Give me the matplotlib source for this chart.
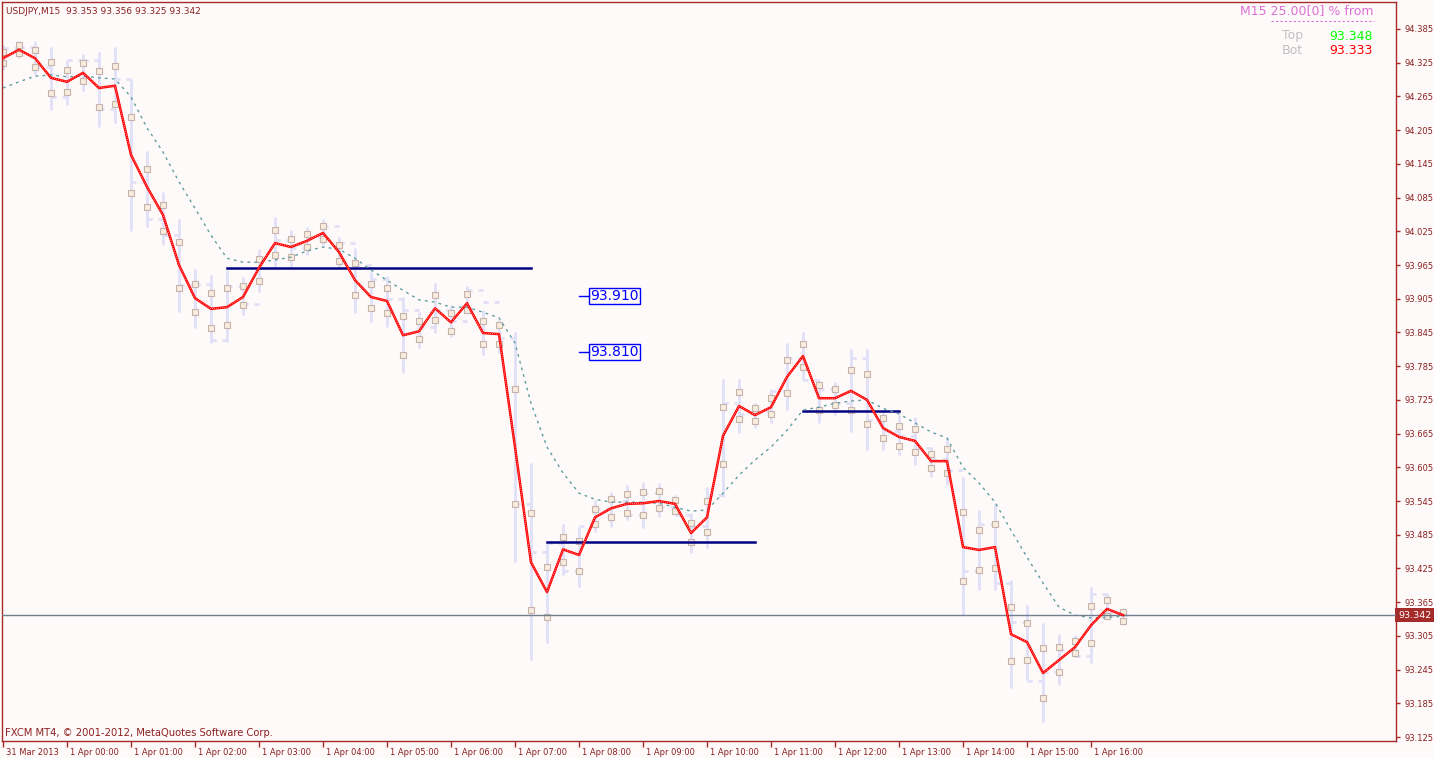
import numpy as np
import matplotlib
matplotlib.use("Agg")
import matplotlib.pyplot as plt
import matplotlib.transforms as mtransforms

# USDJPY M15, 31 Mar 23:00 .. 1 Apr 16:30 (71 bars)
highs = [94.357, 94.364, 94.364, 94.353, 94.330, 94.341, 94.344, 94.353, 94.296, 94.168,
         94.095, 94.047, 93.958, 93.947, 93.956, 93.944, 93.993, 94.050, 94.027, 94.033,
         94.047, 94.015, 93.995, 93.952, 93.945, 93.908, 93.881, 93.933, 93.894, 93.928,
         93.885, 93.867, 93.846, 93.612, 93.472, 93.504, 93.499, 93.547, 93.561, 93.573,
         93.579, 93.577, 93.556, 93.523, 93.570, 93.762, 93.762, 93.719, 93.744, 93.826,
         93.846, 93.760, 93.757, 93.815, 93.815, 93.707, 93.698, 93.694, 93.641, 93.659,
         93.588, 93.529, 93.541, 93.404, 93.360, 93.328, 93.308, 93.306, 93.392, 93.381,
         93.354]
lows = [94.312, 94.333, 94.303, 94.241, 94.250, 94.275, 94.211, 94.218, 94.025, 94.033,
        94.000, 93.881, 93.853, 93.826, 93.828, 93.876, 93.917, 93.960, 93.961, 93.983,
        94.000, 93.961, 93.879, 93.863, 93.855, 93.773, 93.817, 93.844, 93.837, 93.879,
        93.805, 93.808, 93.436, 93.262, 93.292, 93.413, 93.392, 93.490, 93.499, 93.511,
        93.497, 93.516, 93.523, 93.452, 93.461, 93.552, 93.666, 93.675, 93.684, 93.707,
        93.760, 93.684, 93.698, 93.668, 93.636, 93.636, 93.627, 93.609, 93.588, 93.573,
        93.342, 93.386, 93.386, 93.212, 93.226, 93.151, 93.217, 93.267, 93.256, 93.337,
        93.324]
first_open = 94.330
closes = [94.352, 94.353, 94.317, 94.264, 94.330, 94.330, 94.243, 94.296, 94.113, 94.047,
          94.018, 93.929, 93.931, 93.831, 93.928, 93.896, 93.960, 94.010, 93.995, 94.015,
          94.035, 94.005, 93.965, 93.940, 93.905, 93.885, 93.855, 93.885, 93.865, 93.920,
          93.900, 93.835, 93.540, 93.455, 93.470, 93.420, 93.500, 93.530, 93.545, 93.520,
          93.560, 93.535, 93.520, 93.500, 93.555, 93.720, 93.700, 93.705, 93.740, 93.800,
          93.760, 93.745, 93.720, 93.800, 93.690, 93.670, 93.660, 93.640, 93.620, 93.600,
          93.420, 93.505, 93.400, 93.330, 93.225, 93.240, 93.280, 93.270, 93.380, 93.345,
          93.342]
sq_upper = [94.344, 94.357, 94.348, 94.326, 94.312, 94.325, 94.310, 94.319, 94.228, 94.136,
            94.072, 94.006, 93.931, 93.915, 93.924, 93.928, 93.976, 94.027, 94.011, 94.020,
            94.034, 94.000, 93.968, 93.931, 93.924, 93.874, 93.865, 93.911, 93.879, 93.913,
            93.865, 93.858, 93.744, 93.523, 93.427, 93.481, 93.474, 93.531, 93.548, 93.557,
            93.561, 93.563, 93.547, 93.506, 93.545, 93.712, 93.739, 93.710, 93.728, 93.796,
            93.824, 93.751, 93.744, 93.778, 93.771, 93.693, 93.678, 93.673, 93.628, 93.637,
            93.525, 93.493, 93.504, 93.356, 93.328, 93.283, 93.285, 93.296, 93.358, 93.369,
            93.347]
sq_lower = [94.325, 94.342, 94.317, 94.271, 94.273, 94.292, 94.246, 94.252, 94.093, 94.068,
            94.025, 93.924, 93.881, 93.853, 93.858, 93.894, 93.936, 93.983, 93.979, 93.997,
            94.011, 93.972, 93.911, 93.888, 93.879, 93.805, 93.833, 93.867, 93.847, 93.885,
            93.824, 93.824, 93.540, 93.351, 93.338, 93.436, 93.420, 93.504, 93.516, 93.523,
            93.520, 93.532, 93.527, 93.472, 93.490, 93.611, 93.691, 93.687, 93.700, 93.737,
            93.783, 93.707, 93.716, 93.707, 93.682, 93.657, 93.643, 93.632, 93.604, 93.595,
            93.402, 93.422, 93.426, 93.260, 93.262, 93.194, 93.240, 93.274, 93.292, 93.340,
            93.331]
red_line = [94.333, 94.348, 94.333, 94.298, 94.291, 94.307, 94.280, 94.284, 94.161, 94.104,
            94.054, 93.965, 93.906, 93.887, 93.890, 93.908, 93.960, 94.004, 93.997, 94.008,
            94.022, 93.988, 93.938, 93.908, 93.901, 93.840, 93.847, 93.888, 93.863, 93.897,
            93.844, 93.842, 93.641, 93.436, 93.383, 93.459, 93.449, 93.516, 93.532, 93.540,
            93.541, 93.545, 93.540, 93.488, 93.516, 93.661, 93.714, 93.698, 93.712, 93.766,
            93.803, 93.728, 93.728, 93.741, 93.725, 93.675, 93.659, 93.652, 93.616, 93.616,
            93.463, 93.458, 93.463, 93.308, 93.294, 93.239, 93.262, 93.285, 93.324, 93.353,
            93.342]
ma_line = [94.280, 94.291, 94.301, 94.303, 94.300, 94.301, 94.298, 94.296, 94.264, 94.209,
           94.166, 94.113, 94.066, 94.018, 93.977, 93.970, 93.970, 93.974, 93.979, 93.990,
           93.997, 93.993, 93.977, 93.956, 93.938, 93.920, 93.903, 93.899, 93.890, 93.890,
           93.881, 93.871, 93.826, 93.719, 93.641, 93.595, 93.559, 93.548, 93.543, 93.543,
           93.543, 93.541, 93.534, 93.527, 93.529, 93.559, 93.591, 93.618, 93.641, 93.671,
           93.707, 93.712, 93.719, 93.723, 93.725, 93.710, 93.700, 93.684, 93.668, 93.657,
           93.605, 93.577, 93.543, 93.493, 93.445, 93.399, 93.356, 93.342, 93.337, 93.338,
           93.340]

# support / resistance segments: (first bar, last bar, price)
levels = [(14, 33, 93.960), (34, 47, 93.472), (50, 56, 93.705)]
boxed_prices = [93.910, 93.810]
boxed_bar = 36
last_price = 93.342

tick_bars = [0, 4, 8, 12, 16, 20, 24, 28, 32, 36, 40, 44, 48, 52, 56, 60, 64, 68]
tick_labels = ["31 Mar 2013"] + ["1 Apr %02d:00" % h for h in range(17)]
price_ticks = np.round(np.arange(93.125, 94.386, 0.06), 3)

bg = "#fffafa"
frame = "#a52a2a"
bar_col = "#e0e0f6"

fig = plt.figure(figsize=(14.34, 7.58), dpi=100)
fig.patch.set_facecolor(bg)
ax = fig.add_axes([2 / 1434, 17 / 758, 1394 / 1434, 739 / 758])
ax.set_facecolor(bg)

x = np.arange(len(highs))
opens = [first_open] + closes[:-1]

# OHLC bars
ax.vlines(x, lows, highs, color=bar_col, lw=2.0, zorder=1)
ax.hlines(opens, x - 0.3, x, color=bar_col, lw=2.0, zorder=1)
ax.hlines(closes, x, x + 0.3, color=bar_col, lw=2.0, zorder=1)

# markers
for s in (sq_upper, sq_lower):
    ax.plot(x, s, ls="none", marker="s", ms=3.8, mfc="#f8ecde", mec="#c4b4ac",
            mew=0.8, zorder=2)

for b0, b1, p in levels:
    ax.plot([b0, b1], [p, p], color="#000080", lw=1.8, zorder=3)

ax.plot(x, ma_line, color="#5f9ea0", lw=1.0, dashes=(2, 3), zorder=4)
ax.plot(x, red_line, color="red", lw=1.8, zorder=5)
ax.plot(x, red_line, color="white", lw=0.5, dashes=(1, 2), zorder=6)

ax.axhline(last_price, color="#708090", lw=1.0, zorder=4)

for p in boxed_prices:
    ax.plot([boxed_bar, boxed_bar + 0.6], [p, p], color="blue", lw=1.0)
    ax.text(boxed_bar + 0.7, p, "%.3f" % p, color="blue", fontsize=10,
            va="center", ha="left",
            bbox=dict(boxstyle="square,pad=0.08", fc="none", ec="blue", lw=1.0))

ax.set_xlim(-0.0625, 87.06)
ax.set_ylim(93.118, 94.433)

for sp in ax.spines.values():
    sp.set_color(frame)
    sp.set_linewidth(1.0)

ax.yaxis.tick_right()
ax.set_yticks(price_ticks)
ax.set_yticklabels(["%.3f" % v for v in price_ticks])
ax.tick_params(axis="y", direction="out", length=3, width=1, colors=frame,
               labelsize=6, pad=3)
ax.tick_params(axis="y", labelcolor="#8b2020")

ax.set_xticks(tick_bars)
ax.set_xticklabels(tick_labels)
ax.tick_params(axis="x", direction="out", length=4, width=1, colors=frame,
               labelsize=6, pad=1)
ax.tick_params(axis="x", labelcolor="#8b2020")
offset = mtransforms.ScaledTranslation(3 / 100, 0, fig.dpi_scale_trans)
for lab in ax.get_xticklabels():
    lab.set_horizontalalignment("left")
    lab.set_transform(lab.get_transform() + offset)

# current price tag
ax.text(1.0015, last_price, "%.3f" % last_price, transform=ax.get_yaxis_transform(),
        color="white", fontsize=6.8, va="center", ha="left",
        bbox=dict(boxstyle="square,pad=0.3", fc=frame, ec="none"))

def ft(px, py, s, **kw):
    fig.text(px / 1434, 1 - py / 758, s, **kw)

ft(6, 11, "USDJPY,M15  93.353 93.356 93.325 93.342", color="#8b2020", fontsize=6.5,
   va="center")
ft(5, 733, "FXCM MT4, \u00a9 2001-2012, MetaQuotes Software Corp.", color="#8b2020",
   fontsize=7.2, va="center")
ft(1374, 11, "M15 25.00[0] % from", color="#da70d6", fontsize=9, ha="right",
   va="center")
fig.add_artist(plt.Line2D([1271 / 1434, 1374 / 1434], [1 - 21 / 758, 1 - 21 / 758],
                          color="#da70d6", lw=0.8, dashes=(2, 2)))
ft(1303, 36, "Top", color="#c0c0c0", fontsize=9, ha="right", va="center")
ft(1303, 51, "Bot", color="#c0c0c0", fontsize=9, ha="right", va="center")
ft(1373, 36, "93.348", color="#00ff00", fontsize=9, ha="right", va="center")
ft(1373, 51, "93.333", color="red", fontsize=9, ha="right", va="center")

fig.savefig("out.png", dpi=100, facecolor=bg)
